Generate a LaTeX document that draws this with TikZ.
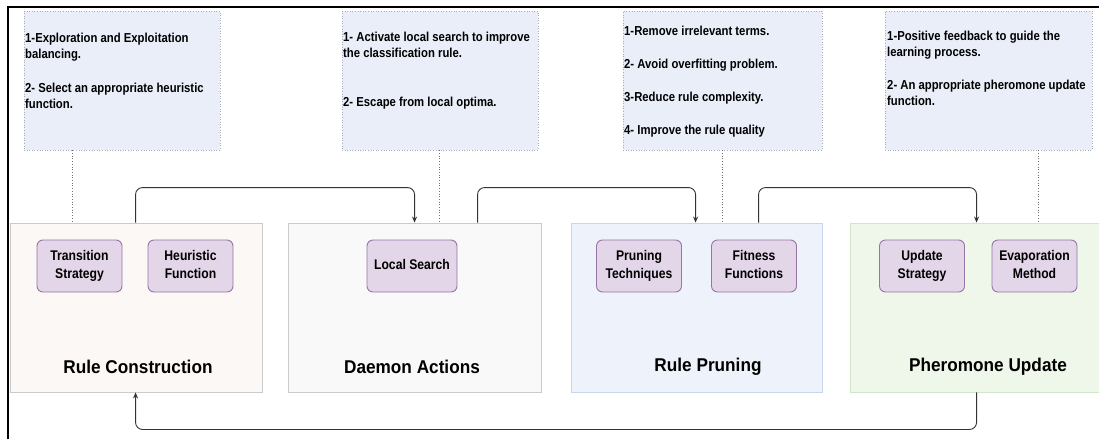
\documentclass[tikz,border=0pt]{standalone}
\usepackage{fontspec}
\usepackage{graphicx}
\setmainfont{Liberation Sans}
\usetikzlibrary{arrows.meta,calc}

\definecolor{annfill}{HTML}{E9EEF8}
\definecolor{annline}{HTML}{A8AEB8}
\definecolor{rcfill}{HTML}{FCF8F5}
\definecolor{rcline}{HTML}{CBCBCB}
\definecolor{dafill}{HTML}{F9F9F9}
\definecolor{daline}{HTML}{CBCBCB}
\definecolor{rpfill}{HTML}{EEF3FB}
\definecolor{rpline}{HTML}{C6D6EE}
\definecolor{pufill}{HTML}{EFF6EA}
\definecolor{puline}{HTML}{D2E7C8}
\definecolor{subfill}{HTML}{E2D6E8}
\definecolor{subline}{HTML}{9775A8}
\definecolor{flow}{HTML}{333333}

% narrow-set text blocks
\newcommand{\leftlines}[1]{\scalebox{0.87}[1]{\begin{tabular}[t]{@{}l@{}}#1\end{tabular}}}
\newcommand{\midlines}[1]{\scalebox{0.87}[1]{\begin{tabular}{@{}c@{}}#1\end{tabular}}}
\newcommand{\headline}[1]{\scalebox{0.93}[1]{#1}}

\tikzset{
  annbox/.style={draw=annline, fill=annfill, dotted, line width=0.6pt,
    inner sep=0pt},
  anntext/.style={anchor=base west, inner sep=0pt,
    font=\fontsize{13}{16}\selectfont\bfseries},
  stage/.style={line width=0.9pt, inner sep=0pt},
  sub/.style={draw=subline, fill=subfill, line width=0.9pt, rounded corners=6pt,
    minimum width=85pt, minimum height=52pt, inner sep=0pt,
    font=\fontsize{14}{17.5}\selectfont\bfseries},
  title/.style={inner sep=0pt, font=\fontsize{18.5}{22}\selectfont\bfseries},
  flowarrow/.style={draw=flow, line width=0.9pt, rounded corners=7pt,
    -{Stealth[length=6pt,width=5pt]}},
  tie/.style={draw=flow!70, dotted, line width=0.7pt},
}

\begin{document}
\begin{tikzpicture}[x=1pt, y=-1pt]
\useasboundingbox (0,0) rectangle (1099,439);
\clip (0,0) rectangle (1099,439);

% frame: left and top edges
\draw[line width=2pt] (7.5,439) -- (7.5,6.5) -- (1099,6.5);

% annotation boxes
\node[annbox, minimum width=196pt, minimum height=139pt] (ann1) at (122,80.5) {};
\node[annbox, minimum width=196pt, minimum height=139pt] (ann2) at (440,80.5) {};
\node[annbox, minimum width=199pt, minimum height=139pt] (ann3) at (722.5,80.5) {};
\node[annbox, minimum width=207pt, minimum height=139pt] (ann4) at (988.5,80.5) {};

\node[anntext] (t1) at (25,42) {\leftlines{1-Exploration and Exploitation\\balancing.\\[18pt]2- Select an appropriate heuristic\\function.}};
\node[anntext] (t2) at (343,41) {\leftlines{1- Activate local search to improve\\the classification rule.\\[33pt]2- Escape from local optima.}};
\node[anntext] (t3) at (624,35) {\leftlines{1-Remove irrelevant terms.\\[17pt]2- Avoid overfitting problem.\\[17pt]3-Reduce rule complexity.\\[17pt]4- Improve the rule quality}};
\node[anntext] (t4) at (887,40) {\leftlines{1-Positive feedback to guide the\\learning process.\\[17pt]2- An appropriate pheromone update\\function.}};

% stages
\node[stage, draw=rcline, fill=rcfill, minimum width=252pt, minimum height=169pt] (rc) at (136,307.5) {};
\node[stage, draw=daline, fill=dafill, minimum width=253pt, minimum height=169pt] (da) at (414.5,307.5) {};
\node[stage, draw=rpline, fill=rpfill, minimum width=251pt, minimum height=169pt] (rp) at (696.5,307.5) {};
\node[stage, draw=puline, fill=pufill, minimum width=256pt, minimum height=169pt] (pu) at (978,307.5) {};

% stage components
\node[sub] (ts) at (79.5,266) {\midlines{Transition\\Strategy}};
\node[sub] (hf) at (190.5,266) {\midlines{Heuristic\\Function}};
\node[sub, minimum width=90pt] (ls) at (412,266) {\midlines{Local Search}};
\node[sub] (pt) at (639,266) {\midlines{Pruning\\Techniques}};
\node[sub] (ff) at (754,266) {\midlines{Fitness\\Functions}};
\node[sub] (us) at (922,266) {\midlines{Update\\Strategy}};
\node[sub] (em) at (1034.5,266) {\midlines{Evaporation\\Method}};

% stage titles
\node[title] (rct) at (138,367) {\headline{Rule Construction}};
\node[title] (dat) at (412,367) {\headline{Daemon Actions}};
\node[title] (rpt) at (708,367) {\headline{Rule Pruning}};
\node[title] (put) at (988,367) {\headline{Pheromone Update}};

% annotation ties
\draw[tie] ([xshift=49pt]ann1.south west) -- ([xshift=49pt]ann1.south west |- rc.north);
\draw[tie] ([xshift=98pt]ann2.south west) -- ([xshift=98pt]ann2.south west |- da.north);
\draw[tie] ([xshift=100pt]ann3.south west) -- ([xshift=100pt]ann3.south west |- rp.north);
\draw[tie] ([xshift=154pt]ann4.south west) -- ([xshift=154pt]ann4.south west |- pu.north);

% flow between stages
\draw[flowarrow] ([xshift=126pt]rc.north west) -- ++(0,-35) -| ([xshift=127pt]da.north west);
\draw[flowarrow] ([xshift=190pt]da.north west) -- ++(0,-35) -| ([xshift=125pt]rp.north west);
\draw[flowarrow] ([xshift=188pt]rp.north west) -- ++(0,-35) -| ([xshift=127pt]pu.north west);
\draw[flowarrow] ([xshift=127pt]pu.south west) -- ++(0,37) -| ([xshift=126pt]rc.south west);
\end{tikzpicture}
\end{document}
